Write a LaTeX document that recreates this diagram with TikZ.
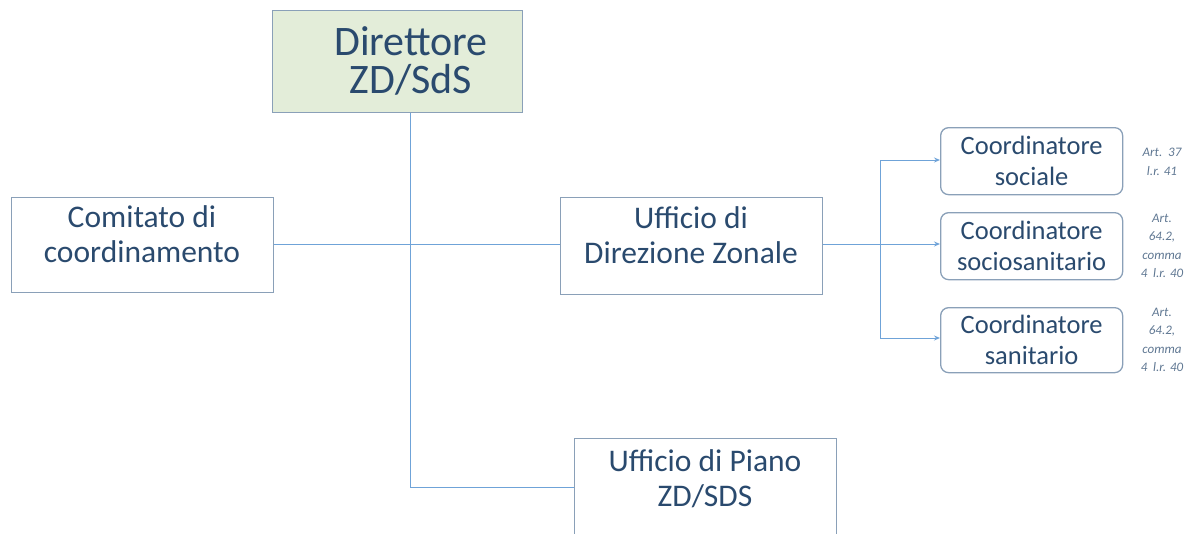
\documentclass[tikz,border=0pt]{standalone}
\usepackage{fontspec}
\setmainfont{Carlito}
\usetikzlibrary{arrows.meta}
\definecolor{txt}{HTML}{2A4A6E}
\definecolor{bord}{HTML}{8AA0B8}
\definecolor{conn}{HTML}{6FA3D8}
\definecolor{greenfill}{HTML}{E3EDD9}
\tikzset{
  box/.style={draw=bord, line width=1.3pt, inner sep=0pt, anchor=north west},
  coord/.style={box, rounded corners=8pt},
  lbl/.style={text=txt, align=center, inner sep=0pt},
  big/.style={lbl, font=\fontsize{31.5}{35}\selectfont},
  mid/.style={lbl, font=\fontsize{26.5}{31}\selectfont},
  link/.style={draw=conn, line width=1pt},
  arr/.style={link, -{Stealth[length=6pt,width=5pt]}},
  note/.style={text=txt!75, font=\itshape\fontsize{13}{18.5}\selectfont, align=center, inner sep=0pt}
}
\begin{document}
\begin{tikzpicture}[x=1pt,y=-1pt]
\useasboundingbox (0,0) rectangle (1196,533);
\node[box, fill=greenfill, minimum width=250pt, minimum height=102pt] (dir) at (272,10) {};
\node[lbl, font=\fontsize{42}{38}\selectfont] (dirtxt) at (411,61) {Direttore\\ZD/SdS};
\node[box, minimum width=262pt, minimum height=95pt] (com) at (11,197) {};
\node[big] (comtxt) at (142,234) {Comitato di\\coordinamento};
\node[box, minimum width=262pt, minimum height=97pt] (udz) at (560,197) {};
\node[big] (udztxt) at (691,235.5) {Ufficio di\\Direzione Zonale};
\node[box, minimum width=262pt, minimum height=110pt] (upz) at (574,438) {};
\node[big] (uptxt) at (705,478.5) {Ufficio di Piano\\ZD/SDS};
\node[coord, minimum width=182pt, minimum height=67pt] (c1) at (940,127) {};
\node[mid] (c1txt) at (c1.center) {Coordinatore\\sociale};
\node[coord, minimum width=182pt, minimum height=67pt] (c2) at (940,212) {};
\node[mid] (c2txt) at (c2.center) {Coordinatore\\sociosanitario};
\node[coord, minimum width=182pt, minimum height=65pt] (c3) at (940,307) {};
\node[mid] (c3txt) at (c3.center) {Coordinatore\\sanitario};
\node[note] (n1) at (1162,162) {Art.\ \ 37\\l.r. 41};
\node[note] (n2) at (1162,246) {Art.\\64.2,\\comma\\4\ \ l.r. 40};
\node[note] (n3) at (1162,340) {Art.\\64.2,\\comma\\4\ \ l.r. 40};
\coordinate (j) at (410,244);
\coordinate (b) at (880,244);
\draw[link] (dir.south -| j) -- (410,487) -- (upz.west |- 0,487);
\draw[link] (com.east |- j) -- (udz.west |- j);
\draw[link] (udz.east |- b) -- (b);
\draw[link] (880,160) -- (880,338);
\draw[arr] (880,160) -- (c1.west |- 0,160);
\draw[arr] (b) -- (c2.west |- b);
\draw[arr] (880,338) -- (c3.west |- 0,338);
\end{tikzpicture}
\end{document}
